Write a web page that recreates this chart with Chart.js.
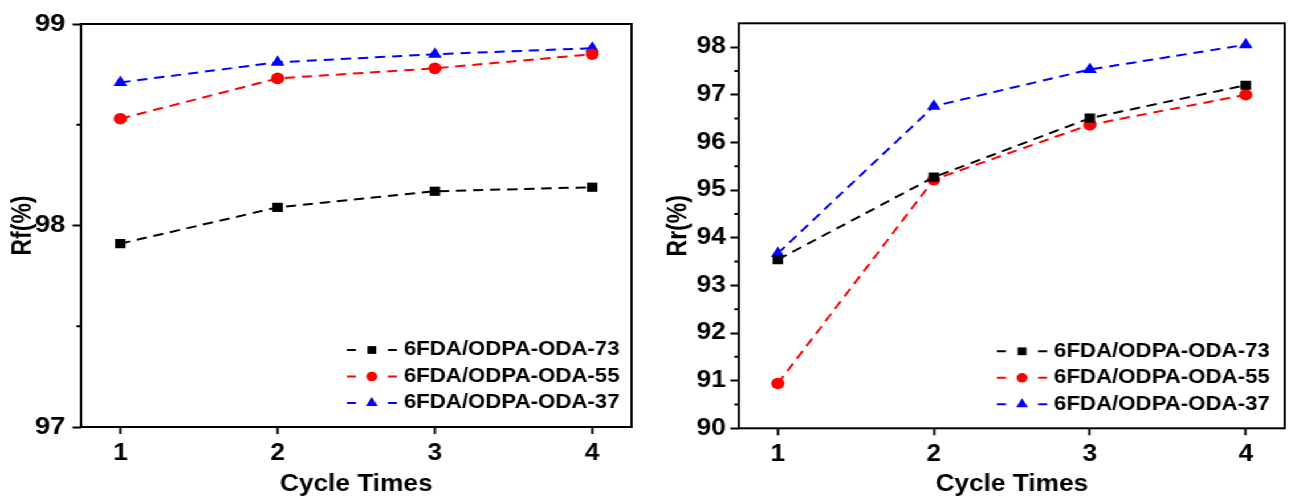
<!DOCTYPE html>
<html>
<head>
<meta charset="utf-8">
<script src="https://cdn.jsdelivr.net/npm/chart.js@4.4.1/dist/chart.umd.min.js"></script>
<style>
  html, body { margin: 0; padding: 0; background: #fff; }
  #stage { position: absolute; left: 0; top: 0; height: 497px; transform-origin: 0 0; }
  #stage canvas { position: absolute; top: 0; }
</style>
</head>
<body>
<div id="stage">
  <canvas id="rfChart"></canvas>
  <canvas id="rrChart"></canvas>
</div>
<script>
// ---- data ----
const cycles = [1, 2, 3, 4];
const seriesNames = ['6FDA/ODPA-ODA-73', '6FDA/ODPA-ODA-55', '6FDA/ODPA-ODA-37'];

// shape fixity ratio Rf (%)
const rf73 = [97.91, 98.09, 98.17, 98.19];
const rf55 = [98.53, 98.73, 98.78, 98.85];
const rf37 = [98.71, 98.81, 98.85, 98.88];

// shape recovery ratio Rr (%)
const rr73 = [93.54, 95.27, 96.51, 97.20];
const rr55 = [90.94, 95.22, 96.37, 97.00];
const rr37 = [93.67, 96.76, 97.53, 98.05];

const rfTicks = [97, 98, 99];
const rrTicks = [90, 91, 92, 93, 94, 95, 96, 97, 98];

// ---- styling ----
const S = 1.14;          // horizontal stretch of the whole figure
const H = 497;
const FAMILY = '"Liberation Sans", Arial, Helvetica, sans-serif';
const font = size => ({ family: FAMILY, size, weight: 'bold', lineHeight: 1.2 });
const colors = ['#000000', '#ff0000', '#0000ff'];
const markers = ['rect', 'circle', 'triangle'];
const markerRadius = [6.5, 5.8, 7];
const keyRadius = [5.5, 4.8, 6];

const stage = document.getElementById('stage');
stage.style.width = (1293 / S) + 'px';
stage.style.transform = 'scaleX(' + S + ')';

function series(values, i) {
  return {
    label: seriesNames[i],
    data: cycles.map((c, k) => ({ x: c, y: values[k] })),
    borderColor: colors[i],
    backgroundColor: colors[i],
    pointBackgroundColor: colors[i],
    pointBorderWidth: 0,
    pointStyle: markers[i],
    pointRadius: markerRadius[i],
    borderWidth: 2,
    borderDash: [9, 6],
    tension: 0,
    fill: false
  };
}

// frame around the plot area plus short minor ticks on the y axis
const framePlugin = {
  id: 'frame',
  afterDraw(chart, args, opts) {
    const { ctx, chartArea: a, scales } = chart;
    ctx.save();
    ctx.strokeStyle = '#000';
    ctx.lineWidth = 2;
    ctx.strokeRect(a.left, a.top, a.right - a.left, a.bottom - a.top);
    const y = scales.y;
    const vals = y.ticks.map(t => t.value);
    const half = (vals[1] - vals[0]) / 2;
    ctx.beginPath();
    vals.forEach(v => {
      const m = v + half;
      if (m >= y.max) return;
      const py = y.getPixelForValue(m);
      ctx.moveTo(a.left - opts.minorLen, py);
      ctx.lineTo(a.left, py);
    });
    ctx.stroke();
    ctx.restore();
  }
};

// series key in the lower right corner: "- marker -  name"
const keyPlugin = {
  id: 'seriesKey',
  afterDraw(chart, args, opts) {
    const { ctx, chartArea: a } = chart;
    const ds = chart.data.datasets;
    ctx.save();
    ctx.font = 'bold ' + opts.size + 'px ' + FAMILY;
    ctx.textBaseline = 'middle';
    ctx.textAlign = 'right';
    ds.forEach((d, i) => {
      const y = a.bottom - opts.bottom - (ds.length - 1 - i) * opts.rowGap;
      const xr = a.right - opts.right;
      ctx.fillStyle = '#000';
      ctx.fillText(d.label, xr, y);
      const tw = ctx.measureText(d.label).width;
      const x0 = xr - tw - 57 / S;
      ctx.strokeStyle = d.borderColor;
      ctx.lineWidth = 2;
      ctx.beginPath();
      ctx.moveTo(x0, y); ctx.lineTo(x0 + 9 / S, y);
      ctx.moveTo(x0 + 41 / S, y); ctx.lineTo(x0 + 50 / S, y);
      ctx.stroke();
      ctx.fillStyle = d.pointBackgroundColor;
      Chart.helpers.drawPoint(ctx, { pointStyle: d.pointStyle, radius: keyRadius[i], rotation: 0, borderWidth: 0 }, x0 + 25 / S, y);
    });
    ctx.restore();
  }
};

function makeChart(id, cfg) {
  const canvas = document.getElementById(id);
  const w = Math.round(cfg.width / S);
  canvas.width = w;
  canvas.height = H;
  canvas.style.left = (cfg.offset / S) + 'px';
  const areaLeft = cfg.areaLeft / S;
  const areaRight = cfg.areaRight / S;

  return new Chart(canvas, {
    type: 'line',
    data: { datasets: cfg.values.map((v, i) => series(v, i)) },
    plugins: [framePlugin, keyPlugin],
    options: {
      responsive: false,
      animation: false,
      devicePixelRatio: 1,
      layout: { padding: { left: 0, right: w - areaRight, top: cfg.areaTop, bottom: 0 } },
      plugins: {
        legend: { display: false },
        tooltip: { enabled: false },
        frame: { minorLen: 4.5 / S },
        seriesKey: { size: 19.5, right: cfg.keyRight / S, bottom: 24, rowGap: 26.5 }
      },
      scales: {
        x: {
          type: 'linear',
          min: 0.75,
          max: 4.25,
          afterBuildTicks: s => { s.ticks = cycles.map(v => ({ value: v })); },
          afterFit: s => { s.height = H - cfg.areaBottom; },
          border: { display: false },
          grid: { drawOnChartArea: false, drawTicks: true, tickLength: 7, tickWidth: 2, tickColor: '#000' },
          ticks: { font: font(23), color: '#000', padding: 6, maxRotation: 0, autoSkip: false, callback: v => String(v) },
          title: { display: true, text: 'Cycle Times', font: font(23), color: '#000', padding: { top: 0, bottom: -1 } }
        },
        y: {
          type: 'linear',
          min: cfg.ymin,
          max: cfg.ymax,
          afterBuildTicks: s => { s.ticks = cfg.ticks.map(v => ({ value: v })); },
          afterFit: s => { s.width = areaLeft; },
          border: { display: false },
          grid: { drawOnChartArea: false, drawTicks: true, tickLength: 8.5 / S, tickWidth: 2, tickColor: '#000' },
          ticks: { font: font(cfg.yFont), color: '#000', padding: cfg.yPad / S, autoSkip: false, callback: v => String(v) },
          title: { display: true, text: cfg.title, font: font(23), color: '#000', padding: { top: cfg.titlePad / S, bottom: 0 } }
        }
      }
    }
  });
}

makeChart('rfChart', {
  offset: 0, width: 640,
  areaLeft: 81, areaRight: 632, areaTop: 24, areaBottom: 427,
  ymin: 97, ymax: 99, ticks: rfTicks, yFont: 24, yPad: 7,
  title: 'Rf(%)', titlePad: 8, keyRight: 12,
  values: [rf73, rf55, rf37]
});

makeChart('rrChart', {
  offset: 640, width: 653,
  areaLeft: 99.3, areaRight: 652, areaTop: 23.3, areaBottom: 428.3,
  ymin: 90, ymax: 98.5, ticks: rrTicks, yFont: 23, yPad: 4.5,
  title: 'Rr(%)', titlePad: 24, keyRight: 15,
  values: [rr73, rr55, rr37]
});
</script>
</body>
</html>
